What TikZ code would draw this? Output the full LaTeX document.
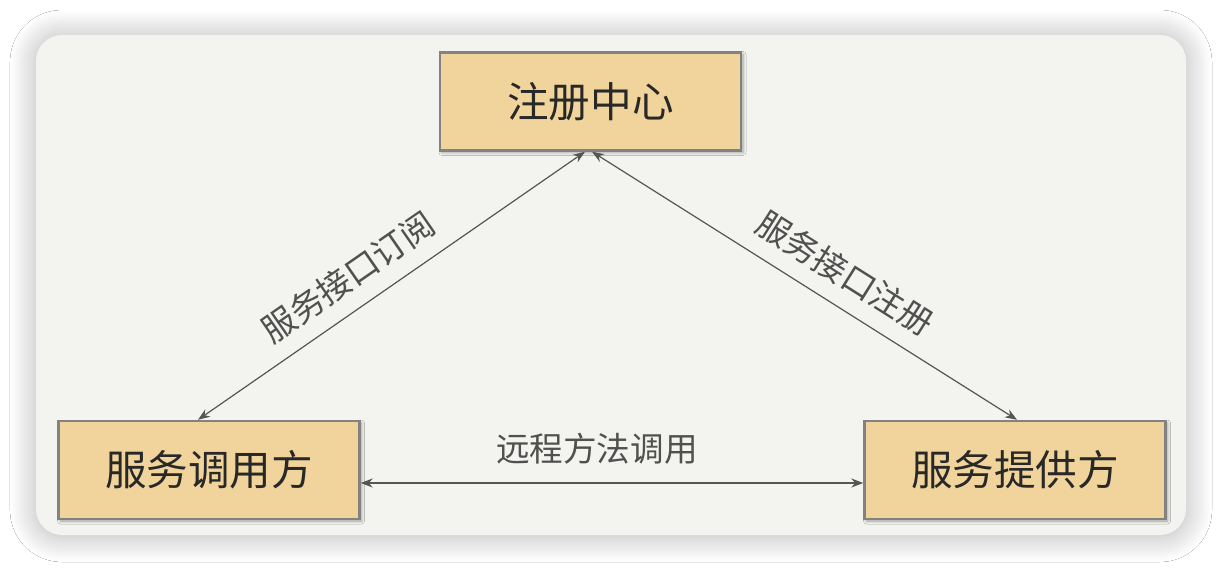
\documentclass[tikz,border=0pt]{standalone}
\usepackage{fontspec}
\setmainfont{Noto Sans CJK SC}
\usetikzlibrary{arrows.meta,shadows.blur}
\definecolor{panelfill}{RGB}{243,243,239}
\definecolor{boxfill}{RGB}{240,212,155}
\definecolor{boxline}{RGB}{130,130,130}
\definecolor{txtdark}{RGB}{40,40,40}
\definecolor{txtgray}{RGB}{80,80,80}
\definecolor{linegray}{RGB}{85,85,85}
\tikzset{
  boxnode/.style={draw=boxline, line width=1.2pt, fill=boxfill,
    minimum width=150.5pt, minimum height=49pt, inner sep=0pt,
    font=\fontsize{20.8pt}{24pt}\selectfont, text=txtdark,
    blur shadow={shadow xshift=1pt, shadow yshift=-1pt, shadow blur radius=1.5pt, shadow opacity=35}},
  arr/.style={linegray, line width=0.6pt, {Stealth[length=6pt,width=4.5pt]}-{Stealth[length=6pt,width=4.5pt]}},
  lbl/.style={font=\fontsize{16.8pt}{20pt}\selectfont, text=txtgray, inner sep=1pt}
}
\begin{document}
\begin{tikzpicture}[x=0.5pt,y=-0.5pt]
\useasboundingbox (0,0) rectangle (1222,572);
\fill[white] (0,0) rectangle (1222,572);
\fill[panelfill, rounded corners=13pt,
  blur shadow={shadow xshift=0pt, shadow yshift=-0.5pt, shadow scale=1.0, shadow blur radius=13pt, shadow blur steps=40, shadow opacity=30}]
  (36,35) rectangle (1186,535);
\node[boxnode] (reg) at (590.5,101.5) {注册中心};
\node[boxnode] (cons) at (209,470) {服务调用方};
\node[boxnode] (prov) at (1015,470) {服务提供方};
\draw[arr] ([xshift=-2.75pt]reg.south) -- node[lbl, pos=0.565, sloped, above=7pt] {服务接口订阅} ([xshift=-5.5pt]cons.north);
\draw[arr] ([xshift=0.75pt]reg.south) -- node[lbl, pos=0.555, sloped, above=7pt] {服务接口注册} ([xshift=1pt]prov.north);
\draw[arr] ([yshift=-6.5pt]cons.east) -- node[lbl, pos=0.47, above=8pt] {远程方法调用} ([yshift=-6.5pt]prov.west);
\end{tikzpicture}
\end{document}
